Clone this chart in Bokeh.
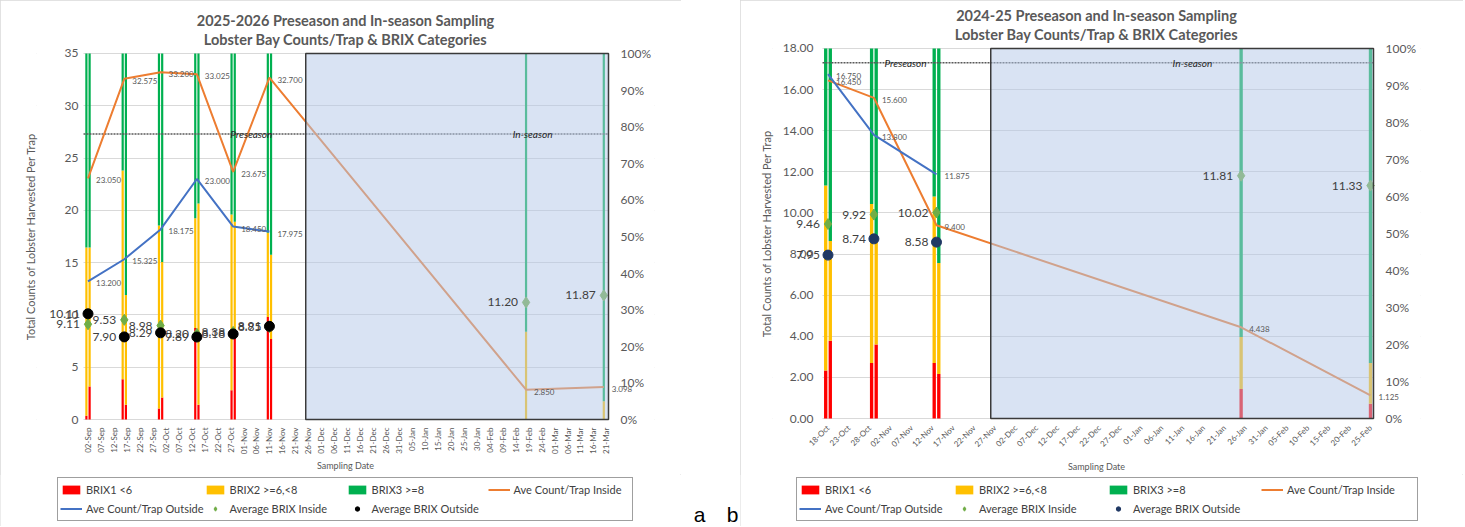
import math
import pandas as pd
from bokeh.plotting import figure
from bokeh.models import (ColumnDataSource, Range1d, LinearAxis, FixedTicker,
                          DatetimeTickFormatter, NumeralTickFormatter, PrintfTickFormatter,
                          Label, BoxAnnotation, Legend, LegendItem, Title)
from bokeh.layouts import row, column
from bokeh.embed import file_html
from bokeh.resources import INLINE

FONT = "Lato"
GREY = "#595959"
DARK = "#404040"
RED, YEL, GRN = "#ff0000", "#ffc000", "#00b050"
ORANGE, BLUE, LGREEN = "#ed7d31", "#4472c4", "#70ad47"
DAY = 86400000.0

# ================= Chart a : 2025-2026 =================
a_title = ["2025-2026 Preseason and In-season Sampling",
           "Lobster Bay Counts/Trap & BRIX Categories"]
a_dates = ["2025-09-02", "2025-09-16", "2025-09-30", "2025-10-14",
           "2025-10-28", "2025-11-11", "2026-02-18", "2026-03-20"]
a_n_pre = 6
a_count_in = [23.050, 32.575, 33.200, 33.025, 23.675, 32.700, 2.850, 3.098]
a_count_out = [13.200, 15.325, 18.175, 23.000, 18.450, 17.975]
a_brix_in = [9.11, 9.53, 8.98, 8.20, 8.38, 8.85, 11.20, 11.87]
a_brix_out = [10.11, 7.90, 8.29, 7.89, 8.18, 8.91]
# BRIX category shares (%) inside / outside
a_b1_in = [1, 11, 3, 25, 8, 28, 0, 0]
a_b2_in = [46, 57, 50, 30, 48, 23, 24, 5]
a_b3_in = [53, 32, 47, 45, 44, 49, 76, 95]
a_b1_out = [9, 4, 6, 4, 23, 22]
a_b2_out = [38, 30, 37, 55, 31, 23]
a_b3_out = [53, 66, 57, 41, 46, 55]
a_yticks = [0, 5, 10, 15, 20, 25, 30, 35]

# ================= Chart b : 2024-25 =================
b_title = ["2024-25 Preseason and In-season Sampling",
           "Lobster Bay Counts/Trap & BRIX Categories"]
b_dates = ["2024-10-18", "2024-10-29", "2024-11-13", "2025-01-25", "2025-02-25"]
b_n_pre = 3
b_count_in = [16.450, 15.600, 9.400, 4.438, 1.125]
b_count_out = [16.750, 13.800, 11.875]
b_brix_in = [9.46, 9.92, 10.02, 11.81, 11.33]
b_brix_out = [7.95, 8.74, 8.58]
b_b1_in = [13, 15, 15, 8, 4]
b_b2_in = [50, 43, 45, 14, 11]
b_b3_in = [37, 42, 40, 78, 85]
b_b1_out = [21, 20, 12]
b_b2_out = [27, 28, 30]
b_b3_out = [52, 52, 58]
b_yticks = [0, 2, 4, 6, 8, 10, 12, 14, 16, 18]

y_label = "Total Counts of Lobster Harvested Per Trap"
legend_labels = ["BRIX1 <6", "BRIX2 >=6,<8", "BRIX3 >=8", "Ave Count/Trap Inside",
                 "Ave Count/Trap Outside", "Average BRIX Inside", "Average BRIX Outside"]
pct_ticks = [0, 10, 20, 30, 40, 50, 60, 70, 80, 90, 100]

MAIN_H = 474
LEG_H = 52
PAD_PX = 6


def ms(d):
    return pd.Timestamp(d).value / 1e6


def no_align(fig):
    try:
        fig.frame_align = False
    except Exception:
        pass


def build(c):
    # pixel <-> date calibration of the x axis
    def at(px):
        return ms(c["anchor"]) + (px - c["anchor_px"]) / c["px_per_day"] * DAY

    f0, f1 = c["frame"]
    e0, e1 = c["edges"]
    ymax = c["yticks"][-1]
    pad = PAD_PX / c["px_per_unit"]
    p = figure(width=c["width"], height=MAIN_H, x_axis_type="datetime",
               x_range=Range1d(at(f0), at(f1)),
               y_range=Range1d(-pad, ymax + pad),
               output_backend="svg", toolbar_location=None, title=None,
               min_border_left=f0 - c["page_x0"],
               min_border_right=c["page_x0"] + c["width"] - f1,
               min_border_top=c["mbt"] - PAD_PX,
               min_border_bottom=MAIN_H - 420 - PAD_PX,
               outline_line_color=None, background_fill_color="white",
               border_fill_color="white")
    no_align(p)
    p.extra_y_ranges = {"pct": Range1d(-pad * 100.0 / ymax, 100.0 + pad * 100.0 / ymax)}

    # white margins outside the plot area (hide grid lines there)
    p.add_layout(BoxAnnotation(right=at(e0), fill_color="white", fill_alpha=1.0,
                               line_color=None, level="underlay"))
    p.add_layout(BoxAnnotation(left=at(e1), fill_color="white", fill_alpha=1.0,
                               line_color=None, level="underlay"))

    n = c["n_pre"]
    xs = [ms(d) for d in c["dates"]]
    off = c["bar_off"] * DAY
    x_in = [x - off if i < n else x for i, x in enumerate(xs)]
    x_out = [x + off for x in xs[:n]]
    w = c["bar_w"] * DAY
    src_in = ColumnDataSource(dict(x=x_in, b1=c["b1_in"], b2=c["b2_in"], b3=c["b3_in"]))
    src_out = ColumnDataSource(dict(x=x_out, b1=c["b1_out"], b2=c["b2_out"], b3=c["b3_out"]))
    p.vbar_stack(["b1", "b2", "b3"], x="x", width=w, fill_color=[RED, YEL, GRN],
                 line_color=None, source=src_in, y_range_name="pct")
    p.vbar_stack(["b1", "b2", "b3"], x="x", width=w, fill_color=[RED, YEL, GRN],
                 line_color=None, source=src_out, y_range_name="pct")

    # season divider (dotted line across the plot area)
    p.segment(x0=[at(e0)], y0=[c["span_y"]], x1=[at(e1)], y1=[c["span_y"]],
              line_color="#595959", line_dash="2 1", line_width=1.5)

    p.line(xs, c["cnt_in"], line_color=ORANGE, line_width=2)
    p.line(xs[:n], c["cnt_out"], line_color=BLUE, line_width=2)
    p.scatter(xs, c["brix_in"], marker="diamond", size=11,
              fill_color=LGREEN, line_color=LGREEN)
    p.scatter(xs[:n], c["brix_out"], marker="circle", size=10,
              fill_color=c["dot"], line_color=c["dot"])

    # in-season shaded box (overlay)
    p.add_layout(BoxAnnotation(left=ms(c["box_start"]), right=at(e1), top=ymax, bottom=0,
                               fill_color="#b4c7e7", fill_alpha=0.5, line_color="#3a3a3a",
                               line_alpha=1.0, line_width=1.5))

    for txt, xd in [("Preseason", c["pre_x"]), ("In-season", c["in_x"])]:
        p.add_layout(Label(x=ms(xd), y=c["span_y"], text=txt, text_align="center",
                           text_baseline="middle", text_font=FONT, text_font_size="10px",
                           text_font_style="italic", text_color="#262626"))

    # data labels
    groups = [(xs, c["cnt_in"], "{:.3f}", 8, -2, "left", c["cfs"], GREY),
              (xs[:n], c["cnt_out"], "{:.3f}", 8, -2, "left", c["cfs"], GREY),
              (xs, c["brix_in"], "{:.2f}", -8, 0, "right", "12px", DARK),
              (xs[:n], c["brix_out"], "{:.2f}", -8, 0, "right", "12px", DARK)]
    for gx, gy, f, dx, dy, al, fs, col in groups:
        for x, v in zip(gx, gy):
            p.add_layout(Label(x=x, y=v, text=f.format(v), x_offset=dx, y_offset=dy,
                               text_align=al, text_baseline="middle",
                               text_font=FONT, text_font_size=fs, text_color=col))

    # axes
    ticks = [ms(d) for d in pd.date_range(c["tick0"], c["tick1"], freq="5D")]
    p.xaxis.ticker = FixedTicker(ticks=ticks)
    fmt = "%d-%b"
    p.xaxis.formatter = DatetimeTickFormatter(days=fmt, months=fmt, years=fmt, hours=fmt,
                                              hourmin=fmt, minutes=fmt, minsec=fmt,
                                              seconds=fmt, milliseconds=fmt, microseconds=fmt)
    p.xaxis.major_label_orientation = c["orient"]
    p.xaxis.axis_label = "Sampling Date"
    p.xaxis.axis_label_text_font_size = "9px"
    p.xaxis.axis_label_standoff = c["xlab_standoff"]
    p.xaxis.major_label_text_font_size = "8px"
    p.xaxis.major_label_standoff = 2
    p.xaxis.axis_line_color = None

    yax = p.yaxis[0]
    yax.fixed_location = at(e0)
    yax.ticker = FixedTicker(ticks=c["yticks"])
    yax.formatter = NumeralTickFormatter(format=c["yfmt"])
    yax.major_label_standoff = c["ytick_standoff"]
    yax.major_label_text_font_size = "12px"
    yax.axis_line_color = None

    ax2 = LinearAxis(y_range_name="pct", ticker=FixedTicker(ticks=pct_ticks),
                     formatter=PrintfTickFormatter(format="%d%%"), fixed_location=at(e1))
    p.add_layout(ax2, "right")
    ax2.major_label_text_font_size = "12px"
    ax2.major_label_standoff = 12
    ax2.axis_line_color = None

    for ax in p.axis:
        ax.major_tick_line_color = None
        ax.minor_tick_line_color = None
        ax.major_tick_out = 0
        ax.major_tick_in = 0
        ax.minor_tick_out = 0
        ax.minor_tick_in = 0
        ax.major_label_text_color = GREY
        ax.major_label_text_font = FONT
        ax.axis_label_text_color = GREY
        ax.axis_label_text_font = FONT
        ax.axis_label_text_font_style = "normal"

    p.xgrid.grid_line_color = None
    p.ygrid.grid_line_color = "#d9d9d9"

    # vertical axis title (side panel, next to the plot frame)
    p.add_layout(Title(text=y_label, align="center", text_font=FONT, text_font_size="11px",
                       text_font_style="normal", text_color=GREY, standoff=0), "left")

    p.add_layout(Title(text=c["title"][1], align="center", text_font=FONT,
                       text_font_size="14.5px", text_font_style="bold", text_color=GREY,
                       standoff=0), "above")
    p.add_layout(Title(text=c["title"][0], align="center", text_font=FONT,
                       text_font_size="14.5px", text_font_style="bold", text_color=GREY,
                       standoff=0), "above")

    # legend strip (swatch renderers sit outside the visible range)
    lf = figure(width=c["width"], height=LEG_H, x_range=Range1d(0, 1), y_range=Range1d(0, 1),
                output_backend="svg", toolbar_location=None, min_border=0,
                x_axis_location=None, y_axis_location=None, outline_line_color=None)
    no_align(lf)
    lf.grid.visible = False
    rends = [lf.vbar(x=[9], top=[9], bottom=[8], width=0.1, fill_color=col, line_color=None)
             for col in (RED, YEL, GRN)]
    rends.append(lf.line(x=[8, 9], y=[9, 9], line_color=ORANGE, line_width=2))
    rends.append(lf.line(x=[8, 9], y=[9, 9], line_color=BLUE, line_width=2))
    rends.append(lf.scatter(x=[9], y=[9], marker="diamond", size=9,
                            fill_color=LGREEN, line_color=LGREEN))
    rends.append(lf.scatter(x=[9], y=[9], marker="circle", size=8,
                            fill_color=c["dot"], line_color=c["dot"]))
    items = [LegendItem(label=lab, renderers=[r]) for lab, r in zip(legend_labels, rends)]
    leg = Legend(items=items, orientation="horizontal", ncols=4, location=c["leg_loc"],
                 label_text_font=FONT, label_text_font_size="11px", label_text_color=DARK,
                 glyph_width=22, glyph_height=11, label_width=c["lw"], label_height=19,
                 label_standoff=4, spacing=0, padding=2, margin=0,
                 border_line_color=DARK, border_line_width=1.5, background_fill_alpha=1.0)
    lf.add_layout(leg)
    col = column(p, lf)
    col.styles = {"outline": "1px solid #d9d9d9", "outline-offset": "-1px"}
    return col


pa = build(dict(title=a_title, dates=a_dates, n_pre=a_n_pre, cnt_in=a_count_in,
                cnt_out=a_count_out, brix_in=a_brix_in, brix_out=a_brix_out,
                b1_in=a_b1_in, b2_in=a_b2_in, b3_in=a_b3_in,
                b1_out=a_b1_out, b2_out=a_b2_out, b3_out=a_b3_out,
                yticks=a_yticks, yfmt="0", px_per_unit=367.0 / 35.0,
                anchor="2025-09-02", anchor_px=87.5, px_per_day=2.592,
                frame=(36, 654), edges=(83, 608), page_x0=0, width=681, mbt=53,
                tick0="2025-09-02", tick1="2026-03-21",
                orient=math.pi / 2, box_start="2025-11-25", span_y=27.3,
                pre_x="2025-11-04", in_x="2026-02-20 12:00", bar_w=0.85, bar_off=0.62,
                dot="#000000", cfs="8px", lw=116, ytick_standoff=5,
                xlab_standoff=3, leg_loc=(57, 5)))

pb = build(dict(title=b_title, dates=b_dates, n_pre=b_n_pre, cnt_in=b_count_in,
                cnt_out=b_count_out, brix_in=b_brix_in, brix_out=b_brix_out,
                b1_in=b_b1_in, b2_in=b_b2_in, b3_in=b_b3_in,
                b1_out=b_b1_out, b2_out=b_b2_out, b3_out=b_b3_out,
                yticks=b_yticks, yfmt="0.00", px_per_unit=372.0 / 18.0,
                anchor="2024-10-18", anchor_px=827.5, px_per_day=4.173,
                frame=(772, 1420), edges=(822, 1373), page_x0=740, width=723, mbt=48,
                tick0="2024-10-18", tick1="2025-02-25",
                orient=math.pi / 4, box_start="2024-11-26", span_y=17.3,
                pre_x="2024-11-05 14:00", in_x="2025-01-13 08:00", bar_w=0.8, bar_off=0.55,
                dot="#203864", cfs="8px", lw=128, ytick_standoff=9,
                xlab_standoff=5, leg_loc=(56, 5)))

sp = figure(width=59, height=MAIN_H + LEG_H, x_range=Range1d(0, 59),
            y_range=Range1d(0, MAIN_H + LEG_H),
            output_backend="svg", toolbar_location=None, min_border=0,
            x_axis_location=None, y_axis_location=None, outline_line_color=None)
no_align(sp)
sp.grid.visible = False
sp.add_layout(Label(x=18, y=12, text="a", text_align="center", text_baseline="alphabetic",
                    text_font="Liberation Sans", text_font_size="21px", text_color="#000000"))
sp.add_layout(Label(x=51, y=12, text="b", text_align="center", text_baseline="alphabetic",
                    text_font="Liberation Sans", text_font_size="21px", text_color="#000000"))

layout = row(pa, sp, pb)
open("out.html", "w").write(file_html(layout, INLINE))
